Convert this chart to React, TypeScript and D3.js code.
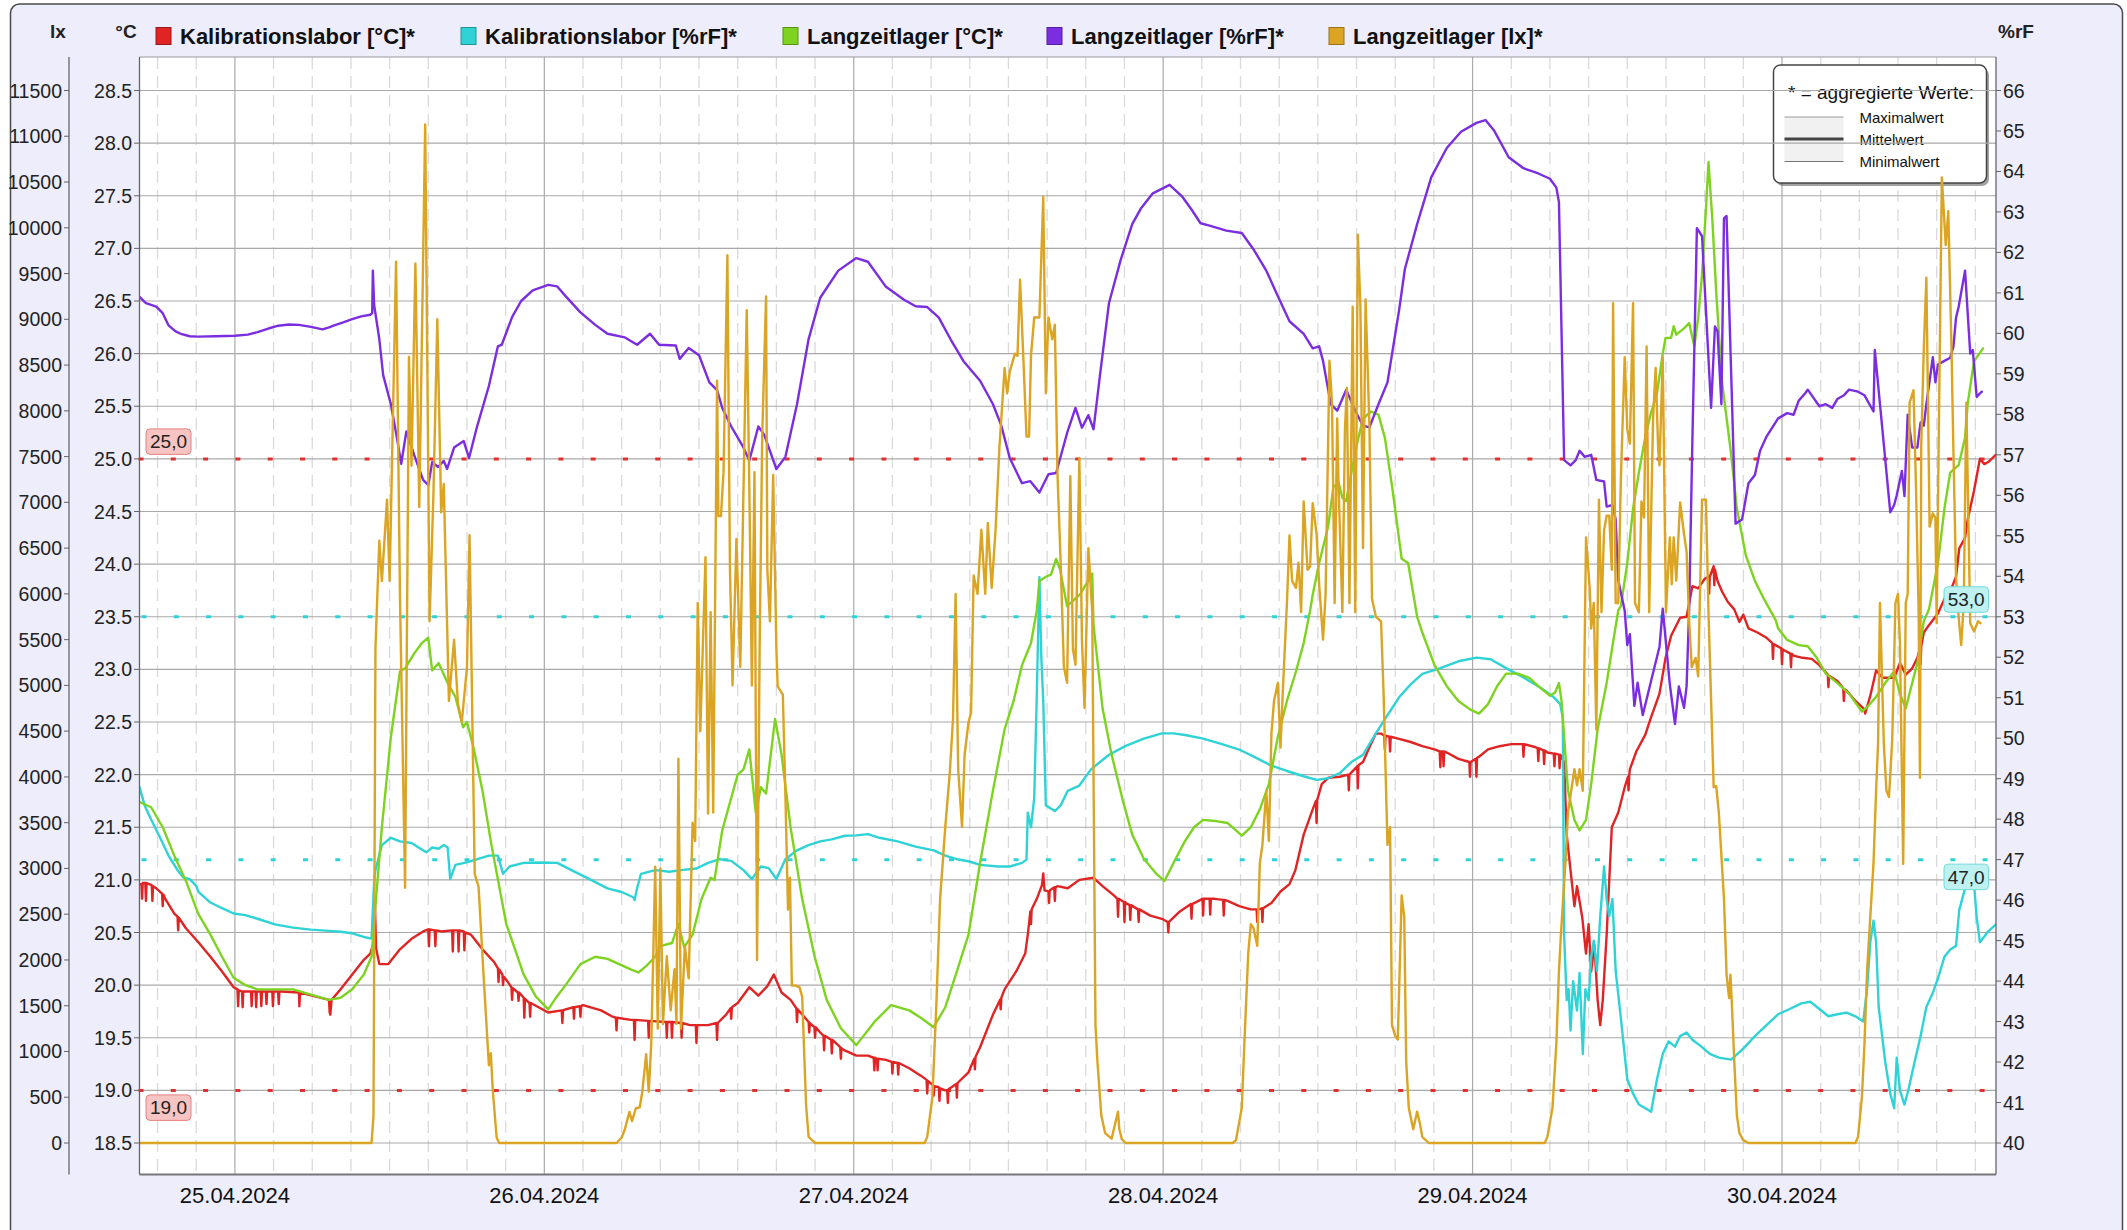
import React from 'react';
import * as d3 from 'd3';

// ---------------- data (hours relative to 25.04.2024 00:00) ----------------
const dateLabels = ['25.04.2024', '26.04.2024', '27.04.2024', '28.04.2024', '29.04.2024', '30.04.2024'];
const tempTicks = [18.5, 19.0, 19.5, 20.0, 20.5, 21.0, 21.5, 22.0, 22.5, 23.0, 23.5, 24.0, 24.5, 25.0, 25.5, 26.0, 26.5, 27.0, 27.5, 28.0, 28.5];
const lxTicks = [0, 500, 1000, 1500, 2000, 2500, 3000, 3500, 4000, 4500, 5000, 5500, 6000, 6500, 7000, 7500, 8000, 8500, 9000, 9500, 10000, 10500, 11000, 11500];
const rhTicks = [40, 41, 42, 43, 44, 45, 46, 47, 48, 49, 50, 51, 52, 53, 54, 55, 56, 57, 58, 59, 60, 61, 62, 63, 64, 65, 66];
const seriesNames = ['Kalibrationslabor [°C]*', 'Kalibrationslabor [%rF]*', 'Langzeitlager [°C]*', 'Langzeitlager [%rF]*', 'Langzeitlager [lx]*'];
const seriesColors = ['#e02424', '#2fd3d6', '#7ed321', '#7b2ee0', '#dba422'];
const tempLimits = [25.0, 19.0];
const rhLimits = [53.0, 47.0];
const aggLabels = ['Maximalwert', 'Mittelwert', 'Minimalwert'];

const kalTemp: [number, number][] = [
  [-7.4, 20.96], [-7.25, 20.96], [-7.2, 20.82], [-7.15, 20.97], [-6.95, 20.97], [-6.9, 20.8], [-6.85, 20.97], [-6.45, 20.95], [-6.4, 20.8], [-6.35, 20.94],
  [-6.1, 20.92], [-5.65, 20.87], [-5.6, 20.75], [-5.55, 20.86], [-5.4, 20.82], [-4.7, 20.68], [-4.45, 20.65], [-4.4, 20.52], [-4.35, 20.64], [-3.8, 20.54],
  [-2.85, 20.41], [-1.9, 20.27], [-1.0, 20.13], [-0.1, 19.98], [0.2, 19.96], [0.25, 19.8], [0.3, 19.95], [0.55, 19.94], [0.6, 19.79], [0.65, 19.94],
  [0.8, 19.94], [1.25, 19.94], [1.3, 19.8], [1.35, 19.94], [1.6, 19.94], [1.65, 19.79], [1.7, 19.94], [2.0, 19.94], [2.05, 19.8], [2.1, 19.94],
  [2.4, 19.94], [2.45, 19.82], [2.5, 19.94], [2.9, 19.94], [2.95, 19.8], [3.0, 19.94], [3.35, 19.94], [3.4, 19.82], [3.45, 19.94], [3.6, 19.94],
  [4.97, 19.93], [5.0, 19.8], [5.05, 19.93], [6.3, 19.89], [7.3, 19.86], [7.35, 19.74], [7.4, 19.72], [7.5, 19.86], [8.2, 19.96], [9.1, 20.1],
  [10.0, 20.24], [10.5, 20.3], [10.75, 20.4], [10.85, 20.82], [10.95, 20.35], [11.2, 20.2], [11.9, 20.2], [12.8, 20.34], [13.7, 20.44], [14.6, 20.51],
  [15.0, 20.53], [15.05, 20.37], [15.1, 20.53], [15.5, 20.52], [15.55, 20.37], [15.6, 20.52], [16.0, 20.51], [16.85, 20.52], [16.9, 20.32], [16.95, 20.52],
  [17.3, 20.52], [17.35, 20.32], [17.4, 20.52], [17.75, 20.51], [17.8, 20.33], [17.85, 20.5], [18.3, 20.48], [19.2, 20.34], [20.1, 20.22], [20.4, 20.16],
  [20.45, 20.03], [20.5, 20.15], [20.75, 20.1], [20.8, 20.0], [20.85, 20.08], [21.05, 20.05], [21.45, 19.98], [21.5, 19.86], [21.55, 19.97], [21.95, 19.93],
  [22.0, 19.85], [22.05, 19.93], [22.4, 19.88], [22.45, 19.69], [22.5, 19.87], [22.85, 19.83], [22.9, 19.7], [22.95, 19.83], [24.3, 19.74], [25.35, 19.76],
  [25.4, 19.64], [25.45, 19.76], [25.65, 19.77], [26.25, 19.79], [26.3, 19.68], [26.35, 19.79], [26.75, 19.8], [26.8, 19.7], [26.85, 19.8], [27.0, 19.81],
  [28.4, 19.76], [29.3, 19.7], [29.55, 19.69], [29.6, 19.57], [29.65, 19.69], [30.7, 19.67], [30.95, 19.67], [31.0, 19.48], [31.05, 19.67], [32.05, 19.66],
  [32.1, 19.5], [32.15, 19.66], [33.45, 19.65], [33.5, 19.5], [33.55, 19.65], [33.85, 19.65], [33.9, 19.5], [33.95, 19.65], [34.6, 19.64], [34.65, 19.5],
  [34.7, 19.64], [35.3, 19.62], [35.75, 19.62], [35.8, 19.45], [35.85, 19.62], [36.7, 19.62], [37.35, 19.64], [37.4, 19.48], [37.45, 19.64], [38.1, 19.72],
  [38.45, 19.78], [38.5, 19.68], [38.55, 19.79], [39.0, 19.83], [39.9, 19.98], [40.6, 19.9], [41.3, 19.99], [41.8, 20.1], [42.4, 19.93], [43.1, 19.86],
  [43.55, 19.78], [43.6, 19.65], [43.65, 19.77], [44.5, 19.65], [44.55, 19.55], [44.6, 19.64], [44.95, 19.6], [45.0, 19.5], [45.05, 19.6], [45.4, 19.55],
  [45.65, 19.52], [45.7, 19.38], [45.75, 19.52], [46.25, 19.48], [46.3, 19.35], [46.35, 19.48], [46.95, 19.41], [47.0, 19.3], [47.05, 19.4], [47.3, 19.38],
  [48.2, 19.33], [49.1, 19.33], [49.55, 19.31], [49.6, 19.19], [49.65, 19.31], [49.8, 19.3], [49.85, 19.19], [49.9, 19.3], [50.5, 19.29], [50.95, 19.27],
  [51.0, 19.16], [51.05, 19.27], [51.4, 19.26], [51.45, 19.15], [51.5, 19.26], [52.3, 19.21], [53.2, 19.14], [53.65, 19.1], [53.7, 18.97], [53.75, 19.09],
  [54.15, 19.05], [54.2, 18.95], [54.25, 19.04], [54.6, 19.03], [54.65, 18.9], [54.7, 19.02], [55.1, 19.0], [55.25, 19.0], [55.3, 18.88], [55.35, 19.01],
  [55.95, 19.06], [56.0, 18.93], [56.05, 19.07], [56.9, 19.17], [57.35, 19.3], [57.4, 19.2], [57.45, 19.32], [57.8, 19.41], [58.8, 19.72], [59.35, 19.86],
  [59.4, 19.77], [59.45, 19.88], [59.7, 19.96], [60.6, 20.13], [61.3, 20.3], [61.5, 20.48], [61.7, 20.7], [61.75, 20.58], [61.8, 20.72], [62.2, 20.82],
  [62.6, 20.95], [62.7, 21.06], [62.8, 20.9], [63.1, 20.89], [63.15, 20.78], [63.2, 20.9], [63.55, 20.93], [63.6, 20.8], [63.65, 20.93], [63.8, 20.94],
  [64.6, 20.92], [65.5, 21.0], [66.6, 21.02], [67.3, 20.94], [68.2, 20.85], [68.45, 20.82], [68.5, 20.65], [68.55, 20.82], [68.95, 20.79], [69.0, 20.6],
  [69.05, 20.79], [69.1, 20.78], [69.4, 20.76], [69.45, 20.62], [69.5, 20.76], [70.05, 20.72], [70.1, 20.6], [70.15, 20.72], [71.0, 20.66], [71.9, 20.63],
  [72.35, 20.6], [72.4, 20.5], [72.45, 20.6], [73.3, 20.7], [74.15, 20.77], [74.2, 20.63], [74.25, 20.77], [75.05, 20.82], [75.1, 20.66], [75.15, 20.82],
  [75.6, 20.82], [75.65, 20.67], [75.7, 20.82], [76.0, 20.82], [76.65, 20.81], [76.7, 20.66], [76.75, 20.81], [77.0, 20.8], [77.9, 20.75], [78.8, 20.72],
  [79.25, 20.72], [79.3, 20.6], [79.35, 20.72], [79.65, 20.73], [79.7, 20.6], [79.75, 20.73], [80.4, 20.78], [81.1, 20.89], [81.8, 20.96], [82.25, 21.09],
  [82.9, 21.43], [83.6, 21.67], [83.85, 21.75], [83.9, 21.54], [83.95, 21.76], [84.3, 21.91], [84.8, 21.97], [85.7, 21.98], [86.35, 22.0], [86.4, 21.85],
  [86.45, 22.0], [87.05, 22.08], [87.1, 21.87], [87.15, 22.09], [87.5, 22.12], [88.0, 22.26], [88.5, 22.39], [88.9, 22.39], [89.15, 22.37], [89.2, 22.24],
  [89.25, 22.37], [89.55, 22.36], [89.6, 22.22], [89.65, 22.36], [90.3, 22.34], [91.2, 22.31], [92.1, 22.27], [93.05, 22.24], [93.45, 22.22], [93.5, 22.07],
  [93.55, 22.22], [93.7, 22.22], [93.75, 22.08], [93.8, 22.22], [94.0, 22.21], [94.9, 22.15], [95.75, 22.12], [95.8, 21.98], [95.85, 22.12], [96.25, 22.15],
  [96.3, 21.98], [96.35, 22.16], [96.5, 22.17], [97.2, 22.24], [98.1, 22.27], [99.0, 22.29], [99.9, 22.29], [99.95, 22.17], [100.0, 22.29], [100.9, 22.26],
  [101.05, 22.25], [101.1, 22.13], [101.15, 22.25], [101.5, 22.23], [101.55, 22.1], [101.6, 22.23], [101.8, 22.21], [102.3, 22.2], [102.35, 22.08], [102.4, 22.2],
  [102.7, 22.19], [102.75, 22.06], [102.8, 22.19], [103.1, 22.12], [103.3, 21.43], [103.6, 21.09], [103.9, 20.75], [104.1, 20.94], [104.5, 20.65], [104.8, 20.3],
  [105.0, 20.58], [105.2, 20.13], [105.45, 20.38], [105.7, 19.86], [105.9, 19.62], [106.1, 19.86], [106.4, 20.48], [106.8, 21.5], [107.3, 21.64], [107.8, 21.88],
  [108.05, 21.98], [108.1, 21.85], [108.15, 21.99], [108.2, 22.05], [108.7, 22.22], [109.4, 22.38], [109.8, 22.53], [110.5, 22.77], [110.97, 23.11], [111.4, 23.32],
  [112.1, 23.49], [112.6, 23.5], [113.05, 23.79], [113.5, 23.77], [114.0, 23.86], [114.3, 23.88], [114.35, 23.72], [114.4, 23.88], [114.7, 23.98], [114.75, 23.8],
  [114.8, 23.95], [115.0, 23.84], [115.35, 23.74], [115.8, 23.64], [116.3, 23.57], [116.7, 23.45], [117.0, 23.52], [117.4, 23.39], [118.1, 23.35], [118.8, 23.3],
  [119.25, 23.25], [119.3, 23.1], [119.35, 23.24], [119.5, 23.23], [119.95, 23.2], [120.0, 23.05], [120.05, 23.19], [120.2, 23.18], [120.65, 23.15], [120.7, 23.02],
  [120.75, 23.15], [120.9, 23.13], [121.6, 23.11], [122.3, 23.1], [122.9, 23.04], [123.55, 22.95], [123.6, 22.83], [123.65, 22.94], [124.3, 22.89], [124.75, 22.82],
  [124.8, 22.7], [124.85, 22.81], [125.0, 22.8], [125.7, 22.7], [126.4, 22.62], [126.45, 22.58], [126.85, 22.75], [127.3, 22.99], [127.8, 22.92], [128.2, 22.92],
  [128.7, 22.92], [129.15, 23.06], [129.6, 22.95], [130.1, 23.01], [130.5, 23.11], [130.7, 23.2], [130.75, 23.05], [130.8, 23.22], [131.0, 23.35], [131.4, 23.42],
  [131.9, 23.5], [132.1, 23.53], [132.6, 23.67], [133.05, 23.74], [133.5, 23.88], [133.75, 24.15], [134.2, 24.25], [134.4, 24.42], [134.9, 24.7], [135.35, 25.0],
  [135.7, 24.95], [136.0, 24.97], [136.6, 25.04],
];

const kalRH: [number, number][] = [
  [-7.4, 48.79], [-7.0, 48.34], [-6.5, 47.99], [-5.8, 47.54], [-5.15, 47.1], [-4.45, 46.74], [-4.0, 46.56], [-3.5, 46.52], [-3.0, 46.35], [-2.85, 46.21],
  [-1.9, 45.94], [-1.0, 45.8], [-0.1, 45.67], [0.8, 45.63], [1.75, 45.54], [3.1, 45.4], [4.5, 45.32], [5.9, 45.27], [7.3, 45.24], [8.2, 45.22],
  [9.1, 45.18], [10.0, 45.09], [10.6, 45.05], [10.8, 46.47], [10.9, 46.74], [11.4, 47.36], [12.1, 47.54], [12.8, 47.45], [13.7, 47.41], [14.4, 47.27],
  [14.85, 47.18], [15.3, 47.3], [15.8, 47.27], [16.2, 47.36], [16.5, 47.3], [16.7, 46.52], [17.1, 46.87], [17.8, 46.92], [18.8, 47.01], [19.7, 47.1],
  [20.4, 47.1], [20.8, 46.65], [21.3, 46.83], [22.4, 46.92], [23.8, 46.93], [25.0, 46.92], [26.1, 46.74], [27.5, 46.52], [28.9, 46.29], [30.0, 46.2],
  [30.9, 46.07], [31.0, 46.0], [31.2, 46.3], [31.5, 46.65], [32.6, 46.74], [33.7, 46.7], [34.6, 46.74], [35.8, 46.78], [36.7, 46.92], [37.6, 47.01],
  [38.5, 46.97], [39.45, 46.74], [40.1, 46.52], [40.8, 46.83], [41.4, 46.79], [42.0, 46.52], [42.7, 47.01], [43.6, 47.23], [44.5, 47.36], [45.4, 47.45],
  [46.3, 47.5], [47.3, 47.59], [48.2, 47.6], [49.1, 47.63], [50.0, 47.54], [51.4, 47.45], [52.8, 47.32], [54.2, 47.23], [55.1, 47.1], [56.0, 47.01],
  [56.9, 46.96], [57.8, 46.87], [59.2, 46.83], [60.1, 46.83], [61.05, 46.92], [61.4, 47.0], [61.5, 48.16], [61.75, 47.8], [62.0, 48.52], [62.2, 51.1],
  [62.4, 53.98], [62.55, 52.0], [62.7, 50.93], [62.9, 48.34], [63.6, 48.2], [64.05, 48.34], [64.6, 48.7], [65.5, 48.83], [66.4, 49.23], [67.8, 49.59],
  [69.1, 49.81], [70.5, 49.99], [71.9, 50.12], [72.8, 50.12], [73.7, 50.08], [75.1, 49.99], [76.5, 49.86], [77.9, 49.72], [79.3, 49.5], [80.4, 49.32],
  [81.6, 49.19], [82.9, 49.06], [83.9, 48.97], [84.8, 49.01], [85.7, 49.14], [86.6, 49.41], [87.5, 49.59], [88.5, 50.12], [89.4, 50.57], [90.3, 51.01],
  [91.2, 51.33], [92.1, 51.59], [93.5, 51.73], [94.9, 51.9], [96.3, 51.99], [97.4, 51.95], [98.6, 51.73], [99.95, 51.5], [101.3, 51.24], [102.3, 51.01],
  [102.8, 50.84], [103.0, 50.5], [103.1, 45.14], [103.3, 43.53], [103.45, 43.8], [103.6, 42.78], [103.8, 44.0], [104.1, 43.27], [104.3, 44.2], [104.55, 42.2],
  [104.75, 43.8], [105.0, 43.53], [105.2, 44.6], [105.4, 45.0], [105.65, 44.25], [105.9, 45.58], [106.2, 46.83], [106.4, 46.03], [106.6, 45.6], [106.85, 46.03],
  [107.1, 44.25], [107.5, 43.09], [108.0, 41.57], [108.45, 41.22], [108.9, 40.95], [109.4, 40.86], [109.85, 40.77], [110.3, 41.57], [110.75, 42.2], [111.2, 42.51],
  [111.7, 42.38], [112.1, 42.64], [112.6, 42.73], [113.05, 42.55], [113.75, 42.38], [114.4, 42.2], [115.1, 42.11], [116.05, 42.06], [117.0, 42.33], [117.9, 42.64],
  [118.8, 42.91], [119.7, 43.18], [120.6, 43.31], [121.5, 43.45], [122.2, 43.49], [122.9, 43.31], [123.6, 43.13], [124.3, 43.18], [125.0, 43.22], [125.7, 43.13],
  [126.3, 43.0], [126.6, 43.8], [126.85, 44.96], [127.1, 45.49], [127.3, 44.96], [127.5, 43.36], [128.0, 42.02], [128.4, 41.22], [128.7, 40.86], [128.9, 42.11],
  [129.15, 41.3], [129.5, 40.95], [129.8, 41.31], [130.3, 42.02], [130.75, 42.64], [131.2, 43.36], [131.7, 43.71], [132.1, 44.07], [132.6, 44.6], [133.05, 44.78],
  [133.5, 44.87], [133.75, 45.76], [134.2, 46.29], [134.5, 46.5], [134.7, 46.38], [134.9, 46.38], [135.1, 45.58], [135.35, 44.96], [135.7, 45.1], [136.0, 45.23],
  [136.6, 45.4],
];

const lagerTemp: [number, number][] = [
  [-7.4, 21.74], [-6.5, 21.69], [-5.6, 21.5], [-4.7, 21.23], [-3.8, 20.99], [-2.85, 20.68], [-1.9, 20.48], [-1.0, 20.27], [-0.1, 20.07], [0.8, 20.0],
  [1.75, 19.96], [3.1, 19.96], [4.5, 19.96], [5.9, 19.91], [7.3, 19.86], [8.2, 19.88], [9.1, 19.96], [10.0, 20.1], [10.6, 20.27], [10.9, 20.75],
  [11.4, 21.5], [12.1, 22.36], [12.8, 22.98], [13.2, 23.01], [13.9, 23.15], [14.5, 23.25], [15.0, 23.3], [15.3, 22.99], [15.8, 23.06], [16.5, 22.87],
  [17.1, 22.74], [17.7, 22.45], [18.0, 22.5], [18.5, 22.26], [19.2, 21.85], [19.9, 21.33], [21.05, 20.58], [22.4, 20.1], [23.35, 19.89], [24.3, 19.77],
  [24.96, 19.89], [25.65, 20.0], [26.8, 20.2], [27.95, 20.27], [28.9, 20.25], [29.8, 20.2], [30.7, 20.15], [31.3, 20.12], [31.9, 20.18], [32.6, 20.27],
  [33.0, 20.37], [33.9, 20.4], [34.4, 20.58], [34.85, 20.36], [35.5, 20.48], [36.2, 20.82], [36.9, 21.02], [37.2, 21.0], [37.8, 21.47], [38.5, 21.78],
  [39.0, 22.0], [39.45, 22.05], [39.9, 22.24], [40.4, 21.64], [40.8, 21.88], [41.2, 21.82], [41.9, 22.53], [42.4, 22.19], [43.1, 21.5], [44.0, 20.82],
  [44.97, 20.27], [45.9, 19.86], [47.0, 19.59], [48.2, 19.43], [49.6, 19.65], [50.9, 19.81], [52.3, 19.76], [53.2, 19.69], [54.2, 19.6], [55.1, 19.79],
  [56.0, 20.13], [56.9, 20.48], [57.8, 21.16], [58.8, 21.85], [59.7, 22.43], [60.4, 22.7], [61.05, 23.04], [61.75, 23.25], [62.2, 23.56], [62.4, 23.84],
  [62.9, 23.88], [63.3, 23.9], [63.7, 24.05], [64.0, 23.95], [64.55, 23.6], [65.0, 23.65], [65.6, 23.72], [66.5, 23.91], [66.6, 23.42], [67.3, 22.63],
  [68.0, 22.19], [68.9, 21.74], [69.6, 21.43], [70.5, 21.2], [71.45, 21.06], [72.1, 20.99], [72.8, 21.16], [73.7, 21.37], [74.4, 21.5], [75.1, 21.57],
  [76.0, 21.56], [77.0, 21.54], [77.65, 21.47], [78.1, 21.42], [78.8, 21.5], [79.5, 21.67], [80.2, 21.91], [80.9, 22.36], [81.6, 22.7], [82.3, 22.98],
  [82.9, 23.25], [83.4, 23.56], [83.6, 23.71], [84.1, 24.01], [84.8, 24.36], [85.2, 24.73], [85.6, 24.78], [85.9, 24.63], [86.2, 24.6], [86.6, 24.87],
  [87.1, 25.18], [87.5, 25.38], [88.1, 25.45], [88.7, 25.42], [89.2, 25.2], [89.8, 24.7], [90.5, 24.05], [91.0, 24.01], [91.7, 23.5], [92.1, 23.35],
  [93.05, 23.04], [94.0, 22.84], [94.9, 22.7], [95.8, 22.62], [96.5, 22.58], [97.2, 22.67], [97.9, 22.84], [98.6, 22.96], [99.5, 22.96], [100.4, 22.92],
  [101.3, 22.82], [102.0, 22.75], [102.4, 22.78], [102.7, 22.87], [102.9, 22.7], [103.4, 21.85], [103.9, 21.57], [104.3, 21.47], [104.8, 21.57], [105.2, 21.91],
  [105.7, 22.43], [106.4, 22.87], [106.85, 23.22], [107.3, 23.56], [107.5, 23.6], [108.0, 24.01], [108.45, 24.53], [108.9, 24.87], [109.4, 25.21], [109.8, 25.42],
  [110.3, 25.62], [110.75, 26.0], [110.97, 26.15], [111.4, 26.15], [111.6, 26.26], [111.8, 26.18], [112.4, 26.24], [112.8, 26.29], [113.2, 26.07], [113.5, 26.34],
  [113.8, 26.75], [114.1, 27.37], [114.3, 27.82], [114.6, 27.27], [114.9, 26.58], [115.35, 25.73], [116.05, 25.05], [116.5, 24.53], [117.2, 24.08], [117.9, 23.84],
  [118.6, 23.67], [119.5, 23.47], [119.7, 23.39], [120.4, 23.28], [121.3, 23.23], [122.0, 23.22], [122.7, 23.11], [123.4, 22.96], [124.3, 22.87], [125.2, 22.77],
  [126.2, 22.6], [126.6, 22.64], [127.3, 22.74], [128.0, 22.87], [128.7, 22.98], [129.15, 22.77], [129.6, 22.63], [130.1, 22.87], [130.5, 23.06], [131.0, 23.46],
  [131.4, 23.57], [132.1, 24.01], [132.6, 24.53], [133.05, 24.87], [133.7, 24.94], [134.2, 25.2], [134.4, 25.52], [134.9, 25.93], [135.6, 26.05],
];

const lagerRH: [number, number][] = [
  [-7.4, 60.9], [-6.9, 60.75], [-6.1, 60.66], [-5.6, 60.5], [-5.15, 60.2], [-4.6, 60.05], [-4.2, 59.99], [-3.5, 59.93], [-2.85, 59.92], [-1.5, 59.93],
  [0, 59.94], [1.0, 59.97], [1.75, 60.03], [2.6, 60.12], [3.36, 60.19], [4.2, 60.22], [4.97, 60.21], [5.9, 60.16], [6.8, 60.1], [7.3, 60.15],
  [7.7, 60.2], [8.4, 60.27], [9.1, 60.35], [9.8, 60.42], [10.5, 60.46], [10.65, 60.5], [10.7, 61.55], [10.8, 60.7], [11.2, 59.86], [11.5, 58.97],
  [12.1, 58.25], [12.55, 57.45], [12.9, 56.78], [13.3, 57.58], [13.9, 57.0], [14.6, 56.38], [15.0, 56.25], [15.3, 56.82], [15.76, 56.7], [16.2, 56.85],
  [16.46, 56.65], [17.0, 57.18], [17.75, 57.34], [18.16, 56.92], [18.76, 57.67], [19.7, 58.7], [20.4, 59.68], [20.7, 59.72], [21.5, 60.4], [22.2, 60.8],
  [23.1, 61.06], [24.3, 61.2], [25.0, 61.16], [25.65, 60.92], [26.8, 60.52], [27.95, 60.21], [28.9, 59.99], [30.25, 59.9], [31.2, 59.72], [32.2, 59.99],
  [32.9, 59.72], [34.2, 59.7], [34.5, 59.37], [35.2, 59.64], [36.0, 59.46], [36.8, 58.79], [37.4, 58.6], [37.8, 58.16], [38.5, 57.7], [39.4, 57.21],
  [39.9, 56.86], [40.6, 57.7], [41.05, 57.5], [42.0, 56.65], [42.7, 56.95], [43.6, 58.25], [44.5, 59.86], [45.4, 60.88], [46.8, 61.55], [48.2, 61.86],
  [49.1, 61.77], [50.5, 61.15], [51.9, 60.83], [52.8, 60.67], [53.7, 60.65], [54.6, 60.39], [55.5, 59.86], [56.5, 59.32], [57.8, 58.83], [58.8, 58.25],
  [59.45, 57.72], [60.1, 56.92], [61.05, 56.3], [61.7, 56.35], [62.4, 56.07], [63.1, 56.52], [63.7, 56.55], [64.55, 57.54], [65.2, 58.16], [65.7, 57.67],
  [66.2, 57.98], [66.6, 57.63], [67.1, 58.97], [67.8, 60.75], [68.7, 61.81], [69.6, 62.7], [70.3, 63.1], [71.2, 63.46], [72.5, 63.67], [73.5, 63.37],
  [74.2, 63.06], [74.9, 62.72], [75.6, 62.66], [76.9, 62.54], [78.1, 62.48], [79.0, 62.08], [80.0, 61.55], [80.9, 60.92], [81.8, 60.3], [82.9, 59.99],
  [83.6, 59.63], [84.1, 59.68], [84.4, 59.32], [85.0, 58.25], [85.5, 58.09], [86.2, 58.61], [86.85, 58.12], [87.5, 57.72], [88.0, 57.68], [88.7, 58.25],
  [89.4, 58.79], [90.3, 60.57], [90.75, 61.59], [91.7, 62.7], [92.8, 63.86], [94.0, 64.58], [95.1, 64.98], [96.3, 65.2], [97.0, 65.27], [97.65, 65.02],
  [98.8, 64.35], [99.95, 64.08], [101.1, 63.95], [102.0, 63.82], [102.5, 63.6], [102.7, 63.24], [103.1, 56.87], [103.6, 56.74], [104.0, 56.87], [104.3, 57.1],
  [104.7, 56.95], [105.2, 57.0], [105.6, 56.38], [106.2, 56.34], [106.4, 55.72], [106.85, 55.76], [107.1, 55.4], [107.3, 53.9], [107.8, 53.15], [108.0, 52.3],
  [108.2, 52.57], [108.55, 50.8], [108.8, 51.37], [109.2, 50.57], [109.85, 51.42], [110.5, 52.26], [110.75, 53.2], [111.3, 51.33], [111.7, 50.35], [112.0, 51.28],
  [112.4, 50.75], [112.6, 51.28], [112.8, 53.2], [112.9, 54.87], [113.05, 57.36], [113.4, 62.6], [113.6, 62.5], [113.8, 62.4], [114.5, 58.16], [114.8, 60.17],
  [115.0, 60.05], [115.3, 58.25], [115.5, 62.84], [115.7, 62.9], [116.4, 55.3], [116.9, 55.4], [117.4, 56.3], [117.9, 56.5], [118.3, 57.1], [118.8, 57.45],
  [119.7, 57.9], [120.4, 58.03], [120.9, 57.99], [121.3, 58.34], [121.8, 58.52], [122.0, 58.61], [122.9, 58.2], [123.4, 58.25], [123.9, 58.16], [124.3, 58.38],
  [124.8, 58.47], [125.2, 58.61], [125.9, 58.56], [126.4, 58.47], [127.1, 58.07], [127.2, 59.59], [128.4, 55.58], [128.7, 55.76], [128.9, 56.0], [129.3, 56.6],
  [129.5, 55.98], [129.75, 57.99], [130.1, 57.18], [130.5, 57.18], [130.75, 57.8], [131.0, 57.72], [131.2, 58.25], [131.7, 59.41], [131.9, 58.79], [132.1, 59.23],
  [132.6, 59.32], [133.05, 59.4], [133.3, 59.68], [133.5, 60.39], [133.7, 60.65], [134.2, 61.55], [134.6, 59.5], [134.8, 59.59], [135.1, 58.43], [135.3, 58.5],
  [135.5, 58.56],
];

const lagerLx: [number, number][] = [
  [-7.4, 0], [10.6, 0], [10.75, 300], [10.9, 5400], [11.2, 6580], [11.4, 6140], [11.8, 7030], [12.0, 6140], [12.5, 9630], [12.8, 6000],
  [13.2, 2790], [13.5, 8590], [13.7, 7400], [14.0, 9610], [14.3, 6950], [14.76, 11130], [15.1, 5700], [15.4, 7100], [15.7, 9000], [16.0, 6890],
  [16.2, 7200], [16.6, 4830], [17.0, 5500], [17.3, 4800], [17.6, 4600], [18.0, 5200], [18.2, 6640], [18.4, 4790], [18.6, 2940], [18.9, 2800],
  [19.3, 1800], [19.7, 850], [19.85, 980], [20.0, 580], [20.3, 60], [20.5, 0],
  [29.6, 0], [30.0, 60], [30.25, 150], [30.6, 340], [30.8, 240], [31.1, 380], [31.4, 390], [31.6, 560], [31.9, 970], [32.1, 560],
  [32.3, 1100], [32.6, 3020], [32.8, 1250], [33.0, 3000], [33.2, 1300], [33.5, 2040], [33.8, 1450], [34.1, 1900], [34.25, 1300], [34.4, 4200],
  [34.6, 1250], [34.9, 2150], [35.2, 1800], [35.5, 3500], [35.7, 3300], [35.9, 5900], [36.1, 4500], [36.5, 6400], [36.7, 3600], [36.9, 5800],
  [37.1, 3610], [37.4, 8330], [37.5, 6850], [37.7, 6850], [37.9, 7330], [38.2, 9700], [38.4, 6260], [38.6, 5000], [38.9, 6600], [39.2, 5200],
  [39.7, 9100], [39.9, 7170], [40.1, 5000], [40.3, 7330], [40.5, 2000], [40.7, 5400], [40.9, 7720], [41.2, 9250], [41.3, 6260], [41.5, 5700],
  [41.75, 7300], [42.0, 5400], [42.1, 4990], [42.5, 4900], [42.7, 3800], [42.9, 2550], [43.05, 2900], [43.2, 1720], [43.5, 1720], [43.8, 1700],
  [44.0, 1600], [44.3, 420], [44.5, 67], [45.0, 0],
  [53.5, 0], [53.7, 67], [54.1, 500], [54.4, 1485], [54.7, 2670], [55.1, 3454], [55.45, 4045], [55.7, 4636], [55.9, 6000], [56.1, 4084],
  [56.4, 3454], [56.6, 4242], [56.9, 4596], [57.1, 4700], [57.3, 6200], [57.6, 6000], [57.9, 6700], [58.2, 6000], [58.4, 6774], [58.7, 6065],
  [59.0, 6700], [59.3, 7600], [59.7, 8468], [59.9, 8192], [60.1, 8428], [60.5, 8625], [60.7, 8600], [60.9, 9433], [61.15, 8600], [61.4, 7720],
  [61.6, 7720], [61.75, 8606], [62.0, 9020], [62.4, 9020], [62.7, 10338], [62.9, 8192], [63.1, 9020], [63.4, 8783], [63.6, 8940], [63.8, 7326],
  [64.05, 6341], [64.3, 5200], [64.55, 5029], [64.8, 7286], [65.0, 5400], [65.2, 5226], [65.5, 7484], [65.7, 5500], [65.9, 4754], [66.2, 6500],
  [66.5, 5800], [66.75, 1288], [66.9, 894], [67.2, 303], [67.5, 107], [68.0, 47], [68.5, 343], [68.6, 150], [68.8, 40], [69.1, 0],
  [77.4, 0], [77.65, 31], [78.1, 386], [78.3, 1091], [78.6, 2075], [78.8, 2390], [79.0, 2350], [79.3, 2154], [79.5, 3060], [79.7, 3257],
  [80.0, 3848], [80.2, 3300], [80.4, 4478], [80.6, 4832], [80.9, 5029], [81.1, 4320], [81.3, 4990], [81.6, 5900], [81.8, 6637], [82.0, 6145],
  [82.3, 6066], [82.5, 6341], [82.7, 5800], [82.9, 7011], [83.2, 6262], [83.4, 6300], [83.6, 6991], [83.9, 6656], [84.1, 6105], [84.4, 5500],
  [84.6, 6000], [84.9, 8547], [85.1, 8074], [85.3, 5900], [85.5, 7917], [85.6, 7208], [85.9, 5800], [86.1, 7800], [86.25, 8250], [86.45, 5900],
  [86.7, 9137], [86.9, 5800], [87.1, 9925], [87.3, 9137], [87.5, 6500], [87.7, 9216], [88.0, 7838], [88.2, 5947], [88.5, 5750], [88.9, 5700],
  [89.1, 4900], [89.4, 3257], [89.6, 3450], [89.75, 1288], [90.0, 1170], [90.2, 1131], [90.5, 2706], [90.7, 2470], [90.85, 894], [91.05, 386],
  [91.4, 150], [91.7, 343], [91.9, 225], [92.1, 67], [92.6, 0],
  [101.6, 0], [101.8, 67], [102.2, 386], [102.5, 1091], [102.7, 1879], [102.85, 2273], [103.2, 3060], [103.4, 3611], [103.9, 4084], [104.1, 3907],
  [104.3, 4084], [104.55, 3848], [104.8, 6617], [105.1, 6026], [105.2, 5620], [105.4, 5900], [105.6, 4518], [105.8, 7030], [106.0, 5800], [106.2, 6696],
  [106.4, 6853], [106.6, 6853], [106.8, 6262], [106.9, 9177], [107.1, 5900], [107.3, 5900], [107.5, 7247], [107.8, 8586], [108.0, 7798], [108.2, 7641],
  [108.45, 9177], [108.6, 5900], [108.9, 5800], [109.1, 7011], [109.3, 6834], [109.5, 8704], [109.7, 5800], [110.0, 7917], [110.2, 8468], [110.4, 7562],
  [110.5, 7405], [110.75, 8586], [111.0, 5800], [111.3, 6617], [111.45, 6105], [111.6, 6617], [111.8, 6145], [112.1, 7000], [112.4, 6656], [112.6, 6459],
  [112.8, 5700], [113.0, 5200], [113.3, 5300], [113.5, 5100], [113.8, 7030], [114.1, 7030], [114.3, 5800], [114.7, 3887], [114.9, 3900], [115.1, 3611],
  [115.5, 2667], [115.7, 1840], [115.9, 1583], [116.0, 1840], [116.1, 1560], [116.3, 894], [116.5, 303], [116.7, 107], [117.0, 31], [117.4, 0],
  [125.7, 0], [125.9, 67], [126.2, 500], [126.4, 1090], [126.6, 1880], [126.85, 2470], [127.1, 3060], [127.3, 3850], [127.45, 4360], [127.6, 5900],
  [127.9, 4360], [128.1, 3850], [128.3, 3780], [128.55, 4400], [128.8, 5900], [129.0, 6000], [129.15, 5462], [129.4, 3050], [129.6, 5900], [129.75, 6000],
  [129.9, 8090], [130.2, 8225], [130.4, 7130], [130.6, 5800], [130.7, 3990], [130.8, 7620], [131.0, 8684], [131.2, 9455], [131.45, 6735], [131.7, 6880],
  [131.9, 6830], [132.0, 5680], [132.1, 7000], [132.4, 10550], [132.7, 9810], [132.9, 10180], [133.15, 8664], [133.3, 7545], [133.5, 6180], [133.7, 5750],
  [133.9, 5440], [134.1, 5900], [134.3, 8090], [134.6, 5680], [134.9, 5590], [135.2, 5700], [135.4, 5680],
];

// ---------------- layout ----------------
const W = 2127;
const H = 1230;
const X0 = 139.5;
const X1 = 1996;
const YT = 57;
const YB = 1174.5;
const Y_LO = 1143;
const Y_HI = 90.5;
const FONT = '"Liberation Sans", Arial, sans-serif';

export default function App() {
  const base = new Date(2024, 3, 25, 0, 0, 0).getTime();
  const t = (h: number) => new Date(base + h * 3600000);
  const x = d3.scaleTime().domain([t(-7.4), t(136.6)]).range([X0, X1]);
  const yT = d3.scaleLinear().domain([18.5, 28.5]).range([Y_LO, Y_HI]);
  const yRH = d3.scaleLinear().domain([40, 66]).range([Y_LO, Y_HI]);
  const yLx = d3.scaleLinear().domain([0, 11500]).range([Y_LO, Y_HI]);

  const mk = (ys: d3.ScaleLinear<number, number>) =>
    d3.line<[number, number]>().x(d => x(t(d[0]))).y(d => ys(d[1])).curve(d3.curveLinear);

  const series = [
    { data: kalTemp, y: yT },
    { data: kalRH, y: yRH },
    { data: lagerTemp, y: yT },
    { data: lagerRH, y: yRH },
    { data: lagerLx, y: yLx },
  ];

  const hours3 = d3.timeHour.every(3)!.range(t(-7.4), t(136.6));
  const days = dateLabels.map(s => {
    const [dd, mm, yy] = s.split('.').map(Number);
    return { label: s, date: new Date(yy, mm - 1, dd) };
  });
  const legendX = [156, 461, 783, 1047, 1329];

  return (
    <div style={{ position: 'absolute', left: 0, top: 0, width: W, height: H, overflow: 'hidden' }}>
      <svg width={W} height={H} style={{ display: 'block', fontFamily: FONT }}>
        <defs>
          <clipPath id="plotclip">
            <rect x={X0} y={YT} width={X1 - X0} height={YB - YT} />
          </clipPath>
        </defs>
        <rect x={0} y={0} width={W} height={H} fill="#ffffff" />
        <rect x={10.5} y={4} width={2112} height={1250} rx={9} fill="#ededfc" stroke="#4a4a4a" strokeWidth={1.5} />

        {/* plot background */}
        <rect x={X0} y={YT} width={X1 - X0} height={YB - YT} fill="#ffffff" />

        {/* vertical grid */}
        {hours3.map((d, i) => {
          const isDay = d.getHours() === 0;
          return (
            <line key={'v' + i} x1={x(d)} x2={x(d)} y1={YT} y2={YB}
              stroke={isDay ? '#aaaaaa' : '#dadada'} strokeWidth={isDay ? 1.2 : 1.3}
              strokeDasharray={isDay ? undefined : '12,7'} />
          );
        })}

        {/* aggregated legend box */}
        <g>
          <rect x={1776} y={68} width={213} height={118} rx={7} fill="#555" opacity={0.55} />
          <rect x={1773.5} y={65} width={213} height={118} rx={7} fill="#ffffff" stroke="#444" strokeWidth={1.5} />
          <rect x={1784.5} y={117} width={59} height={44.5} fill="#f1f1f1" />
          <line x1={1784.5} x2={1843.5} y1={117} y2={117} stroke="#999" strokeWidth={1} />
          <line x1={1784.5} x2={1843.5} y1={139} y2={139} stroke="#444" strokeWidth={3} />
          <line x1={1784.5} x2={1843.5} y1={161.5} y2={161.5} stroke="#777" strokeWidth={1} />
          <text x={1788} y={99} fontSize={19} fill="#111">* = aggregierte Werte:</text>
          {aggLabels.map((s, i) => (
            <text key={s} x={1859.5} y={122.5 + i * 22} fontSize={15} fill="#111">{s}</text>
          ))}
        </g>

        {/* horizontal grid */}
        {tempTicks.map(v => (
          <line key={'h' + v} x1={X0} x2={X1} y1={yT(v)} y2={yT(v)} stroke="#a9a9a9" strokeWidth={1.2} />
        ))}

        {/* limit lines */}
        {tempLimits.map(v => (
          <line key={'tl' + v} x1={X0 - 1} x2={X1} y1={yT(v)} y2={yT(v)} stroke="#e03030" strokeWidth={3} strokeDasharray="5,27.3" />
        ))}
        {rhLimits.map(v => (
          <line key={'rl' + v} x1={X0 + 2} x2={X1} y1={yRH(v)} y2={yRH(v)} stroke="#2fd3d6" strokeWidth={3} strokeDasharray="5,27.3" />
        ))}

        {/* series */}
        <g clipPath="url(#plotclip)">
          {series.map((s, i) => (
            <path key={'s' + i} d={mk(s.y)(s.data) || ''} fill="none" stroke={seriesColors[i]}
              strokeWidth={2.4} strokeLinejoin="round" strokeLinecap="round" />
          ))}
        </g>

        {/* limit labels */}
        {tempLimits.map((v, i) => {
          const ly = yT(v);
          const by = i === 0 ? ly - 30 : ly + 4.5;
          return (
            <g key={'tlab' + v}>
              <rect x={146} y={by} width={45} height={25.5} rx={4} fill="#f7c4c4" stroke="#e88080" strokeWidth={1} />
              <text x={168.5} y={by + 19.5} fontSize={19} textAnchor="middle" fill="#222">{v.toFixed(1).replace('.', ',')}</text>
            </g>
          );
        })}
        {rhLimits.map((v, i) => {
          const ly = yRH(v);
          const by = i === 0 ? ly - 30 : ly + 4.5;
          return (
            <g key={'rlab' + v}>
              <rect x={1944} y={by} width={44.5} height={25.5} rx={4} fill="#bff1f1" stroke="#72dada" strokeWidth={1} />
              <text x={1966.2} y={by + 19.5} fontSize={19} textAnchor="middle" fill="#222">{v.toFixed(1).replace('.', ',')}</text>
            </g>
          );
        })}

        {/* plot frame */}
        <line x1={X0} x2={X1} y1={YT} y2={YT} stroke="#999" strokeWidth={1} />
        <line x1={X0} x2={X0} y1={YT} y2={YB} stroke="#666" strokeWidth={1.3} />
        <line x1={X1} x2={X1} y1={YT} y2={YB} stroke="#666" strokeWidth={1.3} />
        <line x1={X0} x2={X1} y1={YB} y2={YB} stroke="#777" strokeWidth={2.2} />

        {/* lx axis */}
        <line x1={69} x2={69} y1={YT} y2={YB} stroke="#666" strokeWidth={1.3} />
        {lxTicks.map(v => (
          <g key={'lx' + v}>
            <line x1={64} x2={69} y1={yLx(v)} y2={yLx(v)} stroke="#666" strokeWidth={1} />
            <text x={62} y={yLx(v) + 7} fontSize={19.5} textAnchor="end" fill="#222">{v}</text>
          </g>
        ))}
        {/* °C axis */}
        {tempTicks.map(v => (
          <g key={'tc' + v}>
            <line x1={134} x2={X0} y1={yT(v)} y2={yT(v)} stroke="#666" strokeWidth={1} />
            <text x={132} y={yT(v) + 7} fontSize={19.5} textAnchor="end" fill="#222">{v.toFixed(1)}</text>
          </g>
        ))}
        {/* %rF axis */}
        {rhTicks.map(v => (
          <g key={'rh' + v}>
            <line x1={X1} x2={X1 + 5} y1={yRH(v)} y2={yRH(v)} stroke="#666" strokeWidth={1} />
            <text x={2003} y={yRH(v) + 7} fontSize={19.5} textAnchor="start" fill="#222">{v}</text>
          </g>
        ))}

        {/* axis titles */}
        <text x={58} y={38} fontSize={19} fontWeight="bold" textAnchor="middle" fill="#222">lx</text>
        <text x={126} y={38} fontSize={19} fontWeight="bold" textAnchor="middle" fill="#222">°C</text>
        <text x={2016} y={38} fontSize={19} fontWeight="bold" textAnchor="middle" fill="#222">%rF</text>

        {/* date labels */}
        {days.map(d => (
          <text key={d.label} x={x(d.date)} y={1203} fontSize={22} textAnchor="middle" fill="#111">{d.label}</text>
        ))}

        {/* series legend */}
        {seriesNames.map((n, i) => (
          <g key={n}>
            <rect x={legendX[i]} y={27.5} width={15} height={17} fill={seriesColors[i]}
              stroke={d3.color(seriesColors[i])!.darker(1).toString()} strokeWidth={1} />
            <text x={legendX[i] + 24} y={44} fontSize={22} fontWeight="bold" fill="#111">{n}</text>
          </g>
        ))}
      </svg>
    </div>
  );
}
